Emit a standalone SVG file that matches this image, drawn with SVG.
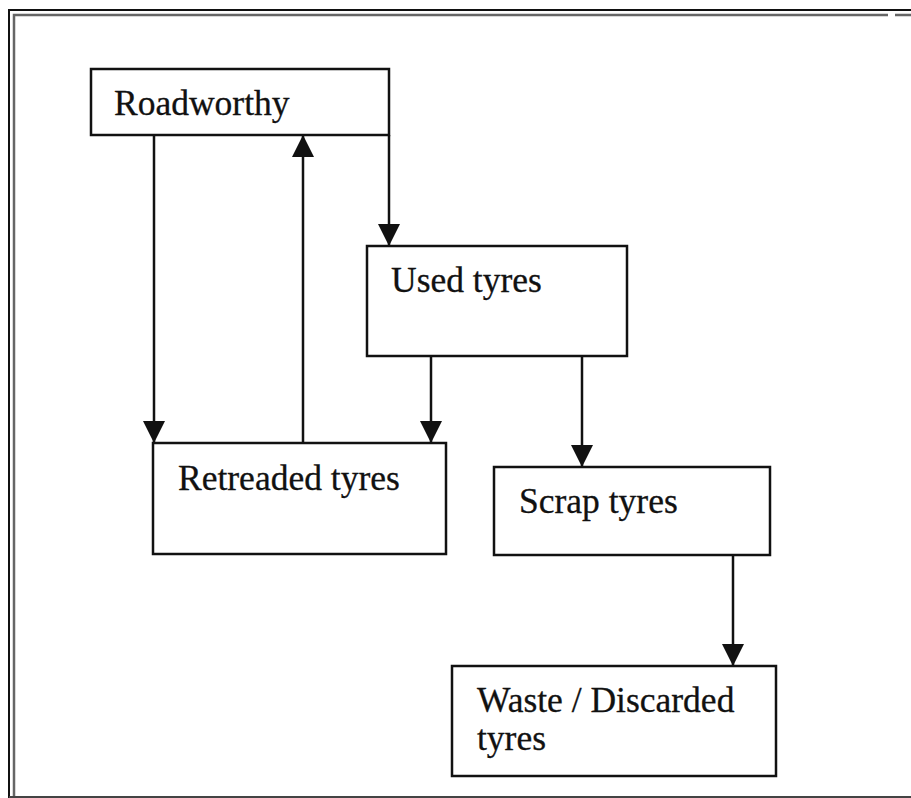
<svg xmlns="http://www.w3.org/2000/svg" width="911" height="798" viewBox="0 0 911 798">
<style>
.box{fill:#fff;stroke:#111;stroke-width:2.5}
.lbl{font-family:"Liberation Serif","Times New Roman",serif;font-size:35.5px;fill:#111;stroke:#111;stroke-width:0.3}
.con{stroke:#111;stroke-width:2.5;fill:none;marker-end:url(#ah)}
</style>
<defs>
<marker id="ah" markerUnits="userSpaceOnUse" markerWidth="22" markerHeight="22" refX="22" refY="11" orient="auto">
<path d="M0,0 L22,11 L0,22 Z" fill="#111"/>
</marker>
</defs>
<rect width="911" height="798" fill="#fff"/>
<g id="frame" fill="none">
<path d="M9,798 V10 H911" stroke="#111" stroke-width="2"/>
<path d="M14,798 V15 H888 M895,15 H911" stroke="#666" stroke-width="2.5"/>
<path d="M9,797 H911" stroke="#444" stroke-width="2"/>
</g>
<g id="connectors">
<line class="con" x1="154" y1="135" x2="154" y2="443"/>
<line class="con" x1="303" y1="443" x2="303" y2="135"/>
<line class="con" x1="389" y1="135" x2="389" y2="246"/>
<line class="con" x1="431" y1="356" x2="431" y2="443"/>
<line class="con" x1="582" y1="356" x2="582" y2="467"/>
<line class="con" x1="733" y1="555" x2="733" y2="666"/>
</g>
<g id="roadworthy">
<rect class="box" x="91" y="69" width="298" height="66"/>
<text class="lbl" x="114" y="115">Roadworthy</text>
</g>
<g id="used">
<rect class="box" x="367" y="246" width="260" height="110"/>
<text class="lbl" x="391" y="292">Used tyres</text>
</g>
<g id="retreaded">
<rect class="box" x="153" y="443" width="293" height="111"/>
<text class="lbl" x="178" y="490">Retreaded tyres</text>
</g>
<g id="scrap">
<rect class="box" x="494" y="467" width="276" height="88"/>
<text class="lbl" x="519" y="513">Scrap tyres</text>
</g>
<g id="waste">
<rect class="box" x="452" y="666" width="324" height="110"/>
<text class="lbl" x="477" y="712">Waste / Discarded</text>
<text class="lbl" x="477" y="750">tyres</text>
</g>
</svg>
